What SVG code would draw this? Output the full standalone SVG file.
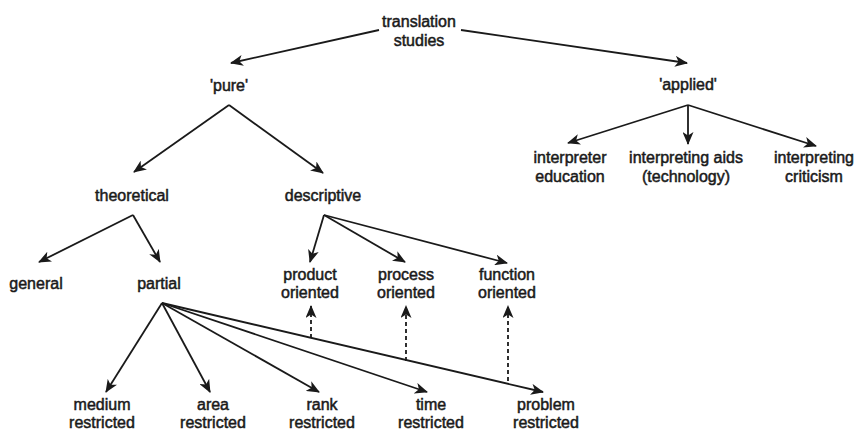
<svg xmlns="http://www.w3.org/2000/svg" width="859" height="430" viewBox="0 0 859 430">
<defs>
<style>
text{font-family:"Liberation Sans",Arial,Helvetica,sans-serif;font-size:16px;fill:#1a1a1a;stroke:#1a1a1a;stroke-width:0.5px;text-anchor:middle}
.e{stroke:#1a1a1a;stroke-width:1.8;fill:none;marker-end:url(#ah)}
.d{stroke-dasharray:4 3}
</style>
<marker id="ah" viewBox="0 0 13 11" refX="12" refY="5.5" markerWidth="13" markerHeight="11" markerUnits="userSpaceOnUse" orient="auto">
<path d="M0,0 L13,5.5 L0,11 L3.5,5.5 Z" fill="#1a1a1a"/>
</marker>
</defs>
<rect width="859" height="430" fill="#fff"/>
<g id="connectors">
<line class="e" x1="379" y1="30" x2="231" y2="63"/>
<line class="e" x1="461" y1="30" x2="687" y2="63"/>
<line class="e" x1="229" y1="105" x2="134" y2="172"/>
<line class="e" x1="229" y1="105" x2="323" y2="173"/>
<line class="e" x1="133" y1="215" x2="39" y2="262"/>
<line class="e" x1="133" y1="215" x2="160" y2="262"/>
<line class="e" x1="324" y1="215" x2="310" y2="262"/>
<line class="e" x1="324" y1="215" x2="405" y2="262"/>
<line class="e" x1="324" y1="215" x2="507" y2="263"/>
<line class="e" x1="688" y1="105" x2="568" y2="143"/>
<line class="e" x1="688" y1="105" x2="688" y2="144"/>
<line class="e" x1="688" y1="105" x2="816" y2="146"/>
<line class="e" x1="162" y1="303" x2="106" y2="392"/>
<line class="e" x1="162" y1="303" x2="210" y2="392"/>
<line class="e" x1="162" y1="303" x2="319" y2="392"/>
<line class="e" x1="162" y1="303" x2="427" y2="392"/>
<line class="e" x1="162" y1="303" x2="543" y2="392"/>
<line class="e d" x1="311" y1="338" x2="311" y2="306"/>
<line class="e d" x1="406" y1="361" x2="406" y2="306"/>
<line class="e d" x1="508" y1="381" x2="508" y2="306"/>
</g>
<g id="translation-studies"><text x="419" y="27">translation</text><text x="419" y="46">studies</text></g>
<g id="pure"><text x="229" y="91">'pure'</text></g>
<g id="applied"><text x="688" y="90">'applied'</text></g>
<g id="interpreter-education"><text x="570" y="163">interpreter</text><text x="570" y="182">education</text></g>
<g id="interpreting-aids"><text x="686" y="163">interpreting aids</text><text x="686" y="182">(technology)</text></g>
<g id="interpreting-criticism"><text x="814" y="163">interpreting</text><text x="814" y="182">criticism</text></g>
<g id="theoretical"><text x="132" y="201">theoretical</text></g>
<g id="descriptive"><text x="323" y="201">descriptive</text></g>
<g id="general"><text x="36" y="289">general</text></g>
<g id="partial"><text x="159" y="289">partial</text></g>
<g id="product-oriented"><text x="310" y="280">product</text><text x="310" y="298">oriented</text></g>
<g id="process-oriented"><text x="406" y="280">process</text><text x="406" y="298">oriented</text></g>
<g id="function-oriented"><text x="507" y="280">function</text><text x="507" y="298">oriented</text></g>
<g id="medium-restricted"><text x="102" y="410">medium</text><text x="102" y="428">restricted</text></g>
<g id="area-restricted"><text x="213" y="410">area</text><text x="213" y="428">restricted</text></g>
<g id="rank-restricted"><text x="322" y="410">rank</text><text x="322" y="428">restricted</text></g>
<g id="time-restricted"><text x="431" y="410">time</text><text x="431" y="428">restricted</text></g>
<g id="problem-restricted"><text x="546" y="410">problem</text><text x="546" y="428">restricted</text></g>
</svg>
